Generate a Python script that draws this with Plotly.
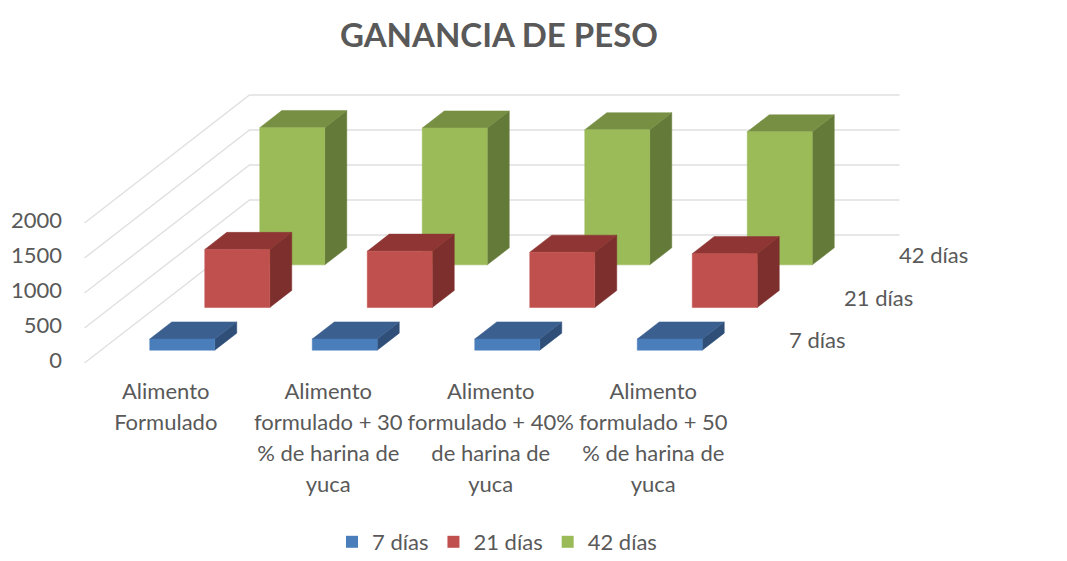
import plotly.graph_objects as go

categories = ["Alimento<br>Formulado",
              "Alimento<br>formulado + 30<br>% de harina de<br>yuca",
              "Alimento<br>formulado + 40%<br>de harina de<br>yuca",
              "Alimento<br>formulado + 50<br>% de harina de<br>yuca"]
series_names = ["7 días", "21 días", "42 días"]
values_7 = [160, 160, 160, 160]
values_21 = [830, 805, 790, 770]
values_42 = [1960, 1955, 1930, 1900]
y_ticks = [0, 500, 1000, 1500, 2000]

front_colors = ["#4A7EBB", "#C0504D", "#9BBB59"]
side_colors = ["#2F4F78", "#7D2F2D", "#647A39"]
top_colors = ["#3B5F8F", "#8F3635", "#768F43"]
GREY = "#595959"
FONT = "Lato"
TXT = 22

# oblique projection, expressed in axis units
PX_X = 162.5              # px per category
PX_Y = 0.07               # px per value unit
DEPTH_X = (165 / PX_X) / 3   # shift per series slot, categories
DEPTH_Y = (128 / PX_Y) / 3   # shift per series slot, values
FLOOR_Y = -3 / PX_Y       # front floor edge sits slightly under the 0 tick
BAR_W = 0.4
BAR_D = 0.4
SLOT_START = 0.3


def proj(cat, depth, value):
    return cat + depth * DEPTH_X, FLOOR_Y + value + depth * DEPTH_Y


def poly(points):
    xs, ys = zip(*[proj(*p) for p in points])
    return list(xs) + [xs[0], None], list(ys) + [ys[0], None]


fig = go.Figure()


def area(xs, ys, color):
    fig.add_trace(go.Scatter(x=xs, y=ys, mode="lines", fill="toself", fillcolor=color,
                             line=dict(color=color, width=0.5), showlegend=False,
                             hoverinfo="skip"))


# gridlines on side wall and back wall
n_cat = len(categories)
n_ser = len(series_names)
for t in y_ticks:
    pts = [proj(-0.5, 0, t), proj(-0.5, n_ser, t), proj(n_cat - 0.5, n_ser, t)]
    fig.add_trace(go.Scatter(x=[p[0] for p in pts], y=[p[1] for p in pts], mode="lines",
                             line=dict(color="#E0E0E0", width=1.4), showlegend=False,
                             hoverinfo="skip"))

all_values = [values_7, values_21, values_42]
for s in reversed(range(n_ser)):
    d0, d1 = s + SLOT_START, s + SLOT_START + BAR_D
    fx, fy, sx, sy, tx, ty = [], [], [], [], [], []
    for c, v in enumerate(all_values[s]):
        l, r = c - BAR_W / 2, c + BAR_W / 2
        x, y = poly([(l, d0, 0), (r, d0, 0), (r, d0, v), (l, d0, v)])
        fx += x; fy += y
        x, y = poly([(r, d0, 0), (r, d1, 0), (r, d1, v), (r, d0, v)])
        sx += x; sy += y
        x, y = poly([(l, d0, v), (r, d0, v), (r, d1, v), (l, d1, v)])
        tx += x; ty += y
    area(sx, sy, side_colors[s])
    area(tx, ty, top_colors[s])
    area(fx, fy, front_colors[s])

# legend entries
for s in range(n_ser):
    fig.add_trace(go.Scatter(x=[None], y=[None], mode="markers", name=series_names[s],
                             marker=dict(symbol="square", size=12, color=front_colors[s])))

# depth axis labels
annotations = []
for s, name in enumerate(series_names):
    x, y = proj(n_cat - 0.5, s + 0.5, 0)
    annotations.append(dict(x=x, y=y, text=name, showarrow=False, xanchor="left",
                            xshift=25, yshift=2, font=dict(size=TXT, color=GREY)))

# all pixel values below are absolute page positions; the page has an 8 px body margin
OFF = 8
W, H = 1067 - OFF, 561 - OFF
L, T, R, B = 63, 80, 1040, 366
ORIGIN = 84.5
x_left = -0.5 + (L - ORIGIN) / PX_X
x_right = -0.5 + (R - ORIGIN) / PX_X
y_bottom = -(B - 360) / PX_Y
y_top = (360 - T) / PX_Y

tick_text = ['<br>'.join(f'<span style="font-size:{TXT}px">{line}</span>' for line in c.split('<br>'))
             for c in categories]

fig.update_layout(
    width=W, height=H, autosize=False,
    margin=dict(l=L - OFF, r=W - (R - OFF), t=T - OFF, b=H - (B - OFF)),
    paper_bgcolor="white", plot_bgcolor="white",
    font=dict(family=FONT, color=GREY),
    title=dict(text="<b>GANANCIA DE PESO</b>", x=(499 - OFF) / W, xanchor="center",
               y=1 - (35 - OFF) / H, yanchor="middle", font=dict(size=33, color=GREY)),
    xaxis=dict(range=[x_left, x_right], tickvals=list(range(n_cat)), ticktext=tick_text,
               showgrid=False, zeroline=False, showline=False, ticks="outside", ticklen=3,
               tickcolor="white", automargin=False,
               tickfont=dict(size=24, color=GREY), tickangle=0, fixedrange=True),
    yaxis=dict(range=[y_bottom, y_top], tickvals=y_ticks, showgrid=False, zeroline=False,
               showline=False, ticks="", automargin=False,
               tickfont=dict(size=TXT, color=GREY), fixedrange=True),
    legend=dict(orientation="h", x=(332 - L) / (R - L), xanchor="left", y=1 - (542 - OFF) / H,
                yanchor="middle", yref="container",
                font=dict(size=TXT, color=GREY)),
    annotations=annotations,
)

fig.write_html("out.html")
